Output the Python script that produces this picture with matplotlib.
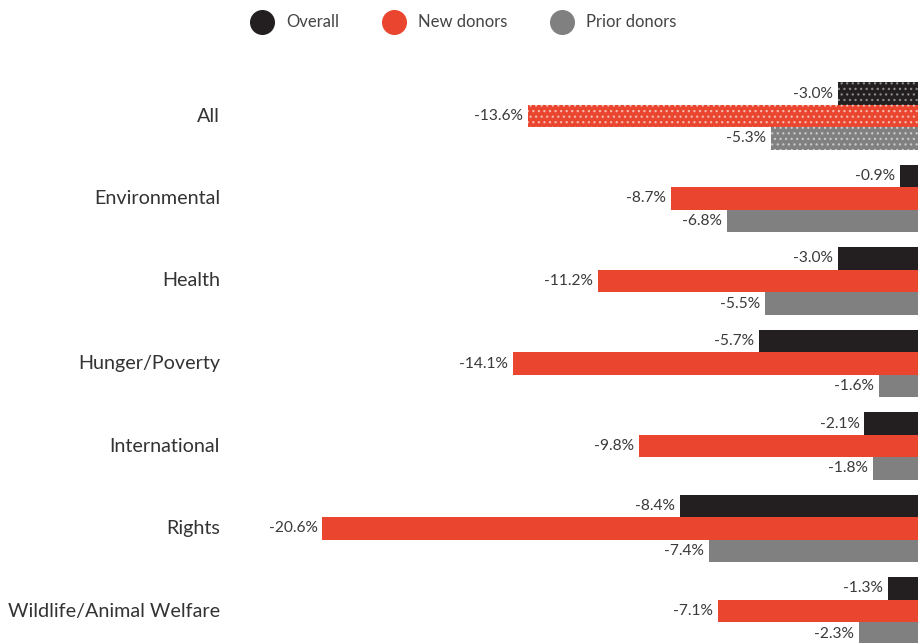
import matplotlib
matplotlib.use("Agg")
import matplotlib.pyplot as plt
from matplotlib.lines import Line2D

categories = ["All", "Environmental", "Health", "Hunger/Poverty",
              "International", "Rights", "Wildlife/Animal Welfare"]
overall = [-3.0, -0.9, -3.0, -5.7, -2.1, -8.4, -1.3]
new_donors = [-13.6, -8.7, -11.2, -14.1, -9.8, -20.6, -7.1]
prior_donors = [-5.3, -6.8, -5.5, -1.6, -1.8, -7.4, -2.3]
series_names = ["Overall", "New donors", "Prior donors"]

colors = ["#231f20", "#e9452f", "#808080"]
hatch_colors = ["#8a8a8a", "#f7b8aa", "#c8c8c8"]

plt.rcParams["font.family"] = ["Lato", "DejaVu Sans"]
plt.rcParams["hatch.linewidth"] = 0.9

W, H = 918, 643
fig = plt.figure(figsize=(W / 100, H / 100), dpi=100)

# axes geometry in pixels: zero line sits just beyond the right edge
px_per_unit = 29.3
zero_px = 926
ax_left, ax_right = 230, 918
group_gap_px = 82.5
first_center_px = 116
bar_px = 22.5

ax = fig.add_axes([ax_left / W, 0, (ax_right - ax_left) / W, 1])
ax.set_xlim(-(zero_px - ax_left) / px_per_unit, -(zero_px - ax_right) / px_per_unit)
# y in units of group spacing, inverted (top row first)
top_units = -first_center_px / group_gap_px
bot_units = (H - first_center_px) / group_gap_px
ax.set_ylim(bot_units, top_units)
ax.axis("off")

bh = bar_px / group_gap_px
offsets = [-bh, 0.0, bh]
all_series = [overall, new_donors, prior_donors]

for vals, col, hcol, off in zip(all_series, colors, hatch_colors, offsets):
    for i, v in enumerate(vals):
        y = i + off
        if i == 0:
            ax.barh(y, v, height=bh, color=col, edgecolor=hcol,
                    linewidth=0, hatch="...")
        else:
            ax.barh(y, v, height=bh, color=col, linewidth=0)
        ax.text(v - 0.17, y, f"{v:.1f}%", ha="right", va="center",
                fontsize=11.2, color="#3a3a3a")

for i, c in enumerate(categories):
    fig.text(220 / W, 1 - (first_center_px + i * group_gap_px) / H, c,
             ha="right", va="center", fontsize=14.2, color="#333333")

# legend row
legend_y = 1 - 22 / H
for name, col, cx in zip(series_names, colors, [262, 394, 562]):
    fig.add_artist(Line2D([cx / W], [legend_y], marker="o", markersize=17,
                          color=col, linestyle="none",
                          transform=fig.transFigure))
    fig.text((cx + 24) / W, legend_y, name, ha="left", va="center",
             fontsize=12, color="#444444")

fig.savefig("out.png", dpi=100)
